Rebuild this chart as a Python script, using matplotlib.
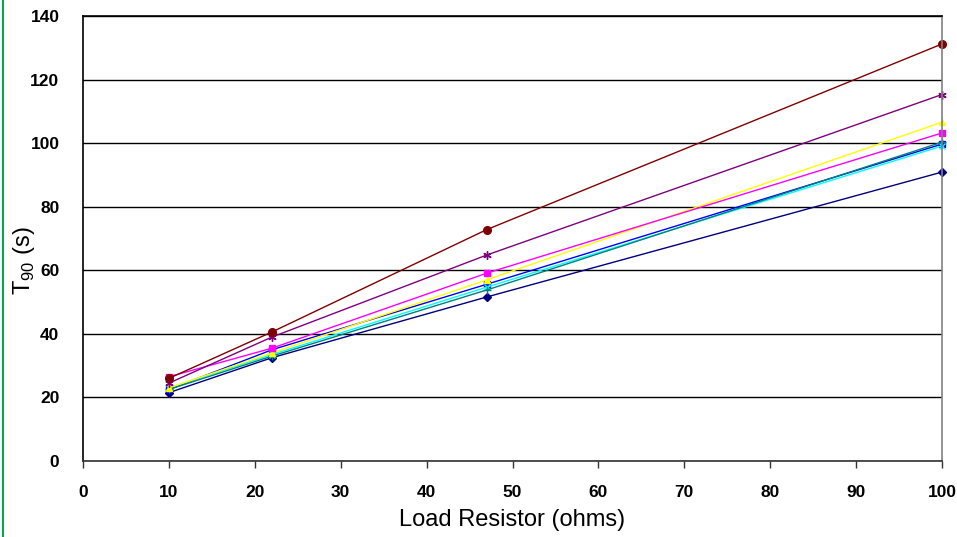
import matplotlib.pyplot as plt
from matplotlib.lines import Line2D

plt.rcParams['font.family'] = ['Liberation Sans', 'DejaVu Sans']

# load resistor values (ohms)
resistors = [10, 22, 47, 100]

# T90 values (s) per series
t90_navy = [21.5, 32.5, 51.6, 90.9]
t90_blue = [22.5, 35.0, 55.6, 99.7]
t90_cyan = [23.0, 33.5, 54.7, 99.1]
t90_teal = [22.5, 33.0, 53.8, 100.3]
t90_yellow = [23.0, 34.0, 57.0, 106.6]
t90_magenta = [26.5, 35.5, 59.1, 103.2]
t90_purple = [24.5, 39.0, 64.8, 115.3]
t90_darkred = [26.0, 40.6, 72.8, 131.2]

xticks = [0, 10, 20, 30, 40, 50, 60, 70, 80, 90, 100]
yticks = [0, 20, 40, 60, 80, 100, 120, 140]

fig = plt.figure(figsize=(9.57, 5.37), dpi=100)
ax = fig.add_axes([83 / 957, 76 / 537, 859 / 957, 445 / 537])

series = [
    (t90_navy, '#000080', 'D', 4),
    (t90_blue, '#0000ff', 's', 4),
    (t90_cyan, '#00ffff', 'x', 5),
    (t90_teal, '#008080', '+', 6),
    (t90_yellow, '#ffff00', '^', 5),
    (t90_magenta, '#ff00ff', 's', 5),
    (t90_purple, '#800080', (6, 2, 0), 6),
    (t90_darkred, '#800000', 'o', 5.5),
]
for vals, col, mk, ms in series:
    ax.plot(resistors, vals, color=col, lw=1, marker=mk, ms=ms,
            mec=col, mfc=col, mew=1, clip_on=False)

ax.set_xlim(0, 100)
ax.set_ylim(0, 140)
ax.set_xticks(xticks)
ax.set_yticks(yticks)
ax.set_xticklabels([str(v) for v in xticks], fontweight='bold', fontsize=12.5)
ax.set_yticklabels([str(v) for v in yticks], fontweight='bold', fontsize=12.5)
ax.tick_params(axis='x', direction='out', length=5, width=1, pad=12, color='#333333')
ax.tick_params(axis='y', length=0, pad=17)
ax.yaxis.grid(True, color='black', lw=1)
ax.set_axisbelow(True)

for side in ['left', 'top']:
    ax.spines[side].set_color('black')
ax.spines['bottom'].set_color('#333333')
ax.spines['right'].set_color('#808080')
for sp in ax.spines.values():
    sp.set_linewidth(1.2)

ax.set_xlabel('Load Resistor (ohms)', fontsize=17, labelpad=7)
ax.set_ylabel(r'T$_{\mathregular{90}}$ (s)', fontsize=17)
ax.yaxis.set_label_coords(-0.053, 0.45)

fig.add_artist(Line2D([2.5 / 957, 2.5 / 957], [0, 1], color='#00a651', lw=1.5))

fig.savefig('out.png', dpi=100)
